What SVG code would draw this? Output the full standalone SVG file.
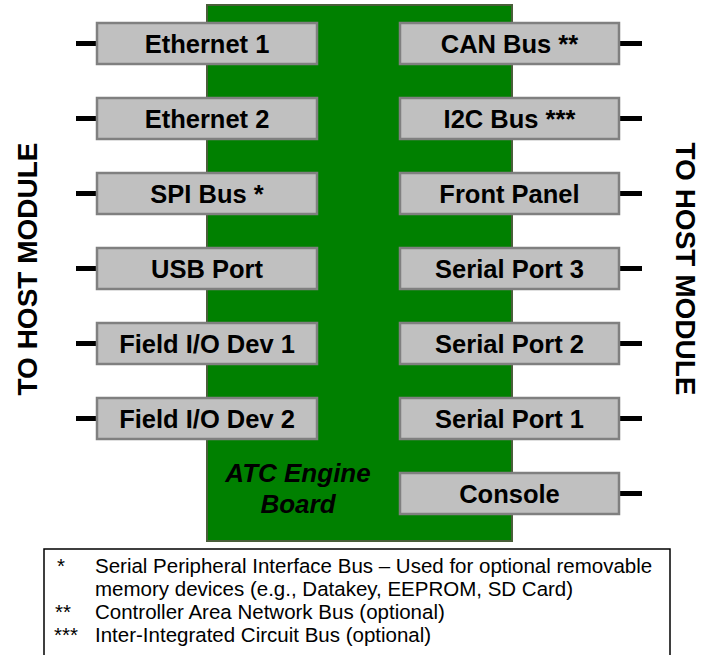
<svg xmlns="http://www.w3.org/2000/svg" width="701" height="655" viewBox="0 0 701 655">
  <style>
    .board { fill: #008000; stroke: #4a5e3a; stroke-width: 2; }
    .port rect { fill: #c0c0c0; stroke: #808080; stroke-width: 2.5; }
    .port text { font-family: "Liberation Sans", Arial, sans-serif; font-weight: bold; font-size: 25.5px; fill: #000; text-anchor: middle; }
    .stub { stroke: #000; stroke-width: 5; }
    .host { font-family: "Liberation Sans", Arial, sans-serif; font-weight: bold; font-size: 28px; fill: #000; text-anchor: middle; }
    .title { font-family: "Liberation Sans", Arial, sans-serif; font-weight: bold; font-style: italic; font-size: 26px; fill: #000; text-anchor: middle; }
    .legend rect { fill: #fff; stroke: #000; stroke-width: 1.5; }
    .legend text { font-family: "Liberation Sans", Arial, sans-serif; font-size: 20.5px; fill: #000; }
  </style>

  <rect width="701" height="655" fill="#fff"/>

  <!-- Engine board -->
  <g id="board">
    <rect class="board" x="207" y="5" width="305" height="536"/>
    <text class="title" x="298" y="482">ATC Engine</text>
    <text class="title" x="298" y="513">Board</text>
  </g>

  <!-- Host-side stubs -->
  <g id="connectors">
    <line class="stub" x1="76" y1="43.5" x2="97" y2="43.5"/>
    <line class="stub" x1="76" y1="118.5" x2="97" y2="118.5"/>
    <line class="stub" x1="76" y1="193.5" x2="97" y2="193.5"/>
    <line class="stub" x1="76" y1="268.5" x2="97" y2="268.5"/>
    <line class="stub" x1="76" y1="343.5" x2="97" y2="343.5"/>
    <line class="stub" x1="76" y1="418.5" x2="97" y2="418.5"/>
    <line class="stub" x1="619" y1="43.5" x2="642" y2="43.5"/>
    <line class="stub" x1="619" y1="118.5" x2="642" y2="118.5"/>
    <line class="stub" x1="619" y1="193.5" x2="642" y2="193.5"/>
    <line class="stub" x1="619" y1="268.5" x2="642" y2="268.5"/>
    <line class="stub" x1="619" y1="343.5" x2="642" y2="343.5"/>
    <line class="stub" x1="619" y1="418.5" x2="642" y2="418.5"/>
    <line class="stub" x1="619" y1="493.5" x2="642" y2="493.5"/>
  </g>

  <!-- Left-side ports -->
  <g id="ethernet1" class="port"><rect x="97" y="23" width="220" height="41"/><text x="207" y="53">Ethernet 1</text></g>
  <g id="ethernet2" class="port"><rect x="97" y="98" width="220" height="41"/><text x="207" y="128">Ethernet 2</text></g>
  <g id="spi-bus" class="port"><rect x="97" y="173" width="220" height="41"/><text x="207" y="203">SPI Bus *</text></g>
  <g id="usb-port" class="port"><rect x="97" y="248" width="220" height="41"/><text x="207" y="278">USB Port</text></g>
  <g id="field-io-1" class="port"><rect x="97" y="323" width="220" height="41"/><text x="207" y="353">Field I/O Dev 1</text></g>
  <g id="field-io-2" class="port"><rect x="97" y="398" width="220" height="41"/><text x="207" y="428">Field I/O Dev 2</text></g>

  <!-- Right-side ports -->
  <g id="can-bus" class="port"><rect x="400" y="23" width="219" height="41"/><text x="509.5" y="53">CAN Bus **</text></g>
  <g id="i2c-bus" class="port"><rect x="400" y="98" width="219" height="41"/><text x="509.5" y="128">I2C Bus ***</text></g>
  <g id="front-panel" class="port"><rect x="400" y="173" width="219" height="41"/><text x="509.5" y="203">Front Panel</text></g>
  <g id="serial3" class="port"><rect x="400" y="248" width="219" height="41"/><text x="509.5" y="278">Serial Port 3</text></g>
  <g id="serial2" class="port"><rect x="400" y="323" width="219" height="41"/><text x="509.5" y="353">Serial Port 2</text></g>
  <g id="serial1" class="port"><rect x="400" y="398" width="219" height="41"/><text x="509.5" y="428">Serial Port 1</text></g>
  <g id="console" class="port"><rect x="400" y="473" width="219" height="41"/><text x="509.5" y="503">Console</text></g>

  <!-- Host module labels -->
  <g id="host-left"><text class="host" transform="translate(36.5 269) rotate(-90)">TO HOST MODULE</text></g>
  <g id="host-right"><text class="host" transform="translate(676 269) rotate(90)">TO HOST MODULE</text></g>

  <!-- Footnotes -->
  <g id="legend" class="legend">
    <rect x="44" y="549" width="626" height="112"/>
    <text x="57" y="573">*</text>
    <text x="95" y="573">Serial Peripheral Interface Bus – Used for optional removable</text>
    <text x="95" y="596">memory devices (e.g., Datakey, EEPROM, SD Card)</text>
    <text x="55" y="619">**</text>
    <text x="95" y="619">Controller Area Network Bus (optional)</text>
    <text x="54" y="642">***</text>
    <text x="95" y="642">Inter-Integrated  Circuit Bus (optional)</text>
  </g>
</svg>
